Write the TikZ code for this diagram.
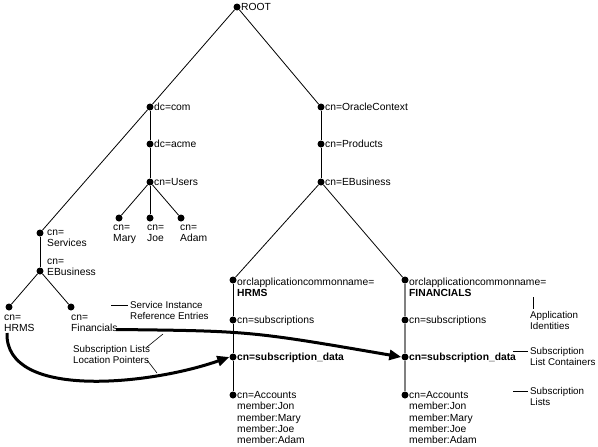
\documentclass[tikz,border=0pt]{standalone}
\usepackage{fontspec}
\setmainfont{Liberation Sans}
\usetikzlibrary{arrows.meta}
\begin{document}
\begin{tikzpicture}[x=1pt,y=-1pt,
  dot/.style={circle,fill=black,inner sep=0pt,minimum size=7pt},
  lbl/.style={anchor=base west,inner sep=0pt,align=left,font=\fontsize{10.3}{11}\selectfont},
  note/.style={lbl,font=\fontsize{9.8}{11}\selectfont},
  memb/.style={lbl,font=\fontsize{10.3}{11.25}\selectfont},
  treeline/.style={line width=0.8pt},
  grayline/.style={line width=1.1pt,draw=black!50},
  bigarrow/.style={line width=3pt,-{Triangle[length=12pt,width=10pt]}},
  leader/.style={line width=0.6pt}]
\useasboundingbox (0,0) rectangle (598,447);

% ---- dots ----
\node[dot] (root) at (237,7) {};
\node[dot] (dccom) at (150,107) {};
\node[dot] (dcacme) at (150,144) {};
\node[dot] (users) at (150,182) {};
\node[dot] (mary) at (119,218) {};
\node[dot] (joe) at (150,218) {};
\node[dot] (adam) at (181,218) {};
\node[dot] (services) at (40,233) {};
\node[dot] (ebizl) at (40,271) {};
\node[dot] (hrms) at (9,307) {};
\node[dot] (fin) at (71,307) {};
\node[dot] (oracle) at (321,107) {};
\node[dot] (products) at (321,144) {};
\node[dot] (ebizr) at (321,182) {};
\node[dot] (apph) at (233,280) {};
\node[dot] (subsh) at (233,320) {};
\node[dot] (datah) at (233,357) {};
\node[dot] (acch) at (233,395) {};
\node[dot] (appf) at (405,280) {};
\node[dot] (subsf) at (405,320) {};
\node[dot] (dataf) at (405,357) {};
\node[dot] (accf) at (405,395) {};

% ---- tree lines ----
\draw[treeline] (root) -- (dccom);
\draw[treeline] (dccom) -- (services);
\draw[treeline] (dccom) -- (dcacme);
\draw[treeline] (dcacme) -- (users);
\draw[treeline] (users) -- (mary);
\draw[treeline] (users) -- (joe);
\draw[treeline] (users) -- (adam);
\draw[treeline] (services) -- (ebizl);
\draw[treeline] (ebizl) -- (hrms);
\draw[treeline] (ebizl) -- (fin);
\draw[treeline] (root) -- (oracle);
\draw[treeline] (oracle) -- (products);
\draw[treeline] (products) -- (ebizr);
\draw[treeline] (ebizr) -- (apph);
\draw[treeline] (ebizr) -- (appf);
\draw[treeline] (apph) -- (subsh);
\draw[treeline] (subsh) -- (datah);
\draw[treeline] (datah) -- (acch);
\draw[grayline] (appf) -- (subsf);
\draw[grayline] (subsf) -- (dataf);
\draw[grayline] (dataf) -- (accf);

% ---- labels (base = baseline of last line) ----
\node[lbl] (rootl) at (241,10.6) {ROOT};
\node[lbl] (dccoml) at (154,110.6) {dc=com};
\node[lbl] (dcacmel) at (154,147.6) {dc=acme};
\node[lbl] (usersl) at (154,185.6) {cn=Users};
\node[lbl] (maryl) at (113,241.5) {cn=\\Mary};
\node[lbl] (joel) at (147,241.5) {cn=\\Joe};
\node[lbl] (adaml) at (180,241.5) {cn=\\Adam};
\node[lbl] (servicesl) at (47,246.8) {cn=\\Services};
\node[lbl] (ebizll) at (47,275.8) {cn=\\EBusiness};
\node[lbl] (hrmsl) at (4,331) {cn=\\HRMS};
\node[lbl] (finl) at (71,331) {cn=\\Financials};
\node[lbl] (oraclel) at (325,110.6) {cn=OracleContext};
\node[lbl] (productsl) at (325,147.6) {cn=Products};
\node[lbl] (ebizrl) at (325,185.6) {cn=EBusiness};
\node[lbl] (apphl) at (237,296) {orclapplicationcommonname=\\\textbf{HRMS}};
\node[lbl] (subshl) at (237,323.5) {cn=subscriptions};
\node[lbl] (datahl) at (237,360.5) {\textbf{cn=subscription\_data}};
\node[memb] (acchl) at (237,443.5) {cn=Accounts\\member:Jon\\member:Mary\\member:Joe\\member:Adam};
\node[lbl] (appfl) at (409,296) {orclapplicationcommonname=\\\textbf{FINANCIALS}};
\node[lbl] (subsfl) at (409,323.5) {cn=subscriptions};
\node[lbl] (datafl) at (409,360.5) {\textbf{cn=subscription\_data}};
\node[memb] (accfl) at (409,443.5) {cn=Accounts\\member:Jon\\member:Mary\\member:Joe\\member:Adam};

% ---- annotations ----
\node[note] (sire) at (130,319.6) {Service Instance\\Reference Entries};
\coordinate (sireA) at (111,305);
\coordinate (sireB) at (128,305);
\draw[leader] (sireA) -- (sireB);

\node[note] (sllp) at (73,363.6) {Subscription Lists\\Location Pointers};

\node[note] (appid) at (530,329.6) {Application\\Identities};
\coordinate (appidA) at (533,297);
\coordinate (appidB) at (533,309);
\draw[leader] (appidA) -- (appidB);

\node[note] (slc) at (530,365.6) {Subscription\\List Containers};
\coordinate (slcA) at (513,351);
\coordinate (slcB) at (528,351);
\draw[leader] (slcA) -- (slcB);

\node[note] (sl) at (530,405.6) {Subscription\\Lists};
\coordinate (slA) at (513,391);
\coordinate (slB) at (528,391);
\draw[leader] (slA) -- (slB);

% ---- thick arrows ----
\coordinate (finstart) at (116,329.5);
\coordinate (hrmsstart) at (7,333);
\draw[bigarrow] (finstart) .. controls (250,331) .. (dataf.west);
\draw[bigarrow] (hrmsstart) .. controls (5,400) and (150,385) .. (datah.west);

% leaders from pointer label to arrows
\coordinate (lp1a) at (147,347);
\coordinate (lp1b) at (163,334);
\coordinate (lp2a) at (147,360);
\coordinate (lp2b) at (157,373);
\draw[leader] (lp1a) -- (lp1b);
\draw[leader] (lp2a) -- (lp2b);
\end{tikzpicture}
\end{document}
